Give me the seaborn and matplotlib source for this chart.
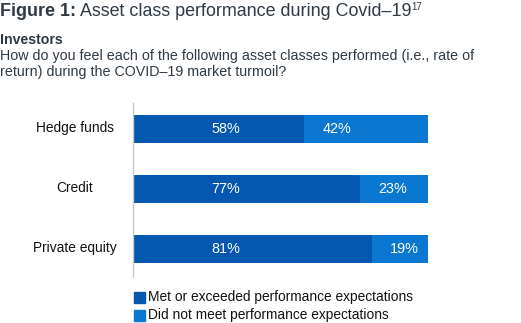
import matplotlib
matplotlib.use("Agg")
import matplotlib.pyplot as plt
import seaborn as sns
import pandas as pd

categories = ["Hedge funds", "Credit", "Private equity"]
met = [58, 77, 81]
not_met = [42, 23, 19]
series_names = ["Met or exceeded performance expectations",
                "Did not meet performance expectations"]

DARK = "#0457ae"
LIGHT = "#0a77d0"
TEXT = "#2f3a44"

sns.set_theme(style="white")
plt.rcParams["font.family"] = ["Liberation Sans", "DejaVu Sans"]

df = pd.DataFrame({
    "category": categories,
    "met": met,
    "total": [a + b for a, b in zip(met, not_met)],
})

W, H = 521, 323
fig = plt.figure(figsize=(W / 100, H / 100), dpi=100)
ax = fig.add_axes([133 / W, (H - 277) / H, 295 / W, 174 / H])

# stacked bars: full length in the lighter blue, first share over it in dark blue
sns.barplot(data=df, x="total", y="category", color=LIGHT, saturation=1,
            width=0.47, ax=ax, linewidth=0)
sns.barplot(data=df, x="met", y="category", color=DARK, saturation=1,
            width=0.47, ax=ax, linewidth=0)

ax.set_xlim(0, 100)
ax.set_ylim(2.47, -0.43)
ax.set_xlabel("")
ax.set_ylabel("")
ax.set_xticks([])
ax.set_yticks([])
for s in ["top", "right", "bottom"]:
    ax.spines[s].set_visible(False)
ax.spines["left"].set_color("#c9c9c9")
ax.spines["left"].set_linewidth(1.0)

for i, (a, b) in enumerate(zip(met, not_met)):
    ax.text(31.5, i, f"{a}%", color="white", fontsize=10.4,
            ha="center", va="center")
    ax.text(a + 11, i, f"{b}%", color="white", fontsize=10.4,
            ha="center", va="center")
    # category label centred in the left margin
    fig.text(75 / W, 1 - (128 + 60 * i) / H, categories[i], fontsize=9.9,
             color="#111111", ha="center", va="center")

# title with a bold lead-in
fig.canvas.draw()
r = fig.canvas.get_renderer()
t1 = fig.text(0 / W, 1 - 12 / H, "Figure 1:", fontsize=12.9, fontweight="bold",
              color=TEXT, va="center", ha="left")
bb = t1.get_window_extent(renderer=r)
t2 = fig.text(bb.x1 / W + 4 / W, 1 - 12 / H,
              "Asset class performance during Covid\u201319",
              fontsize=12.9, color=TEXT, va="center", ha="left")
bb2 = t2.get_window_extent(renderer=r)
fig.text(bb2.x1 / W, 1 - 7 / H, "17", fontsize=7, color=TEXT,
         va="center", ha="left")

fig.text(0, 1 - 40 / H, "Investors", fontsize=10.2, fontweight="bold",
         color=TEXT, va="center", ha="left")
fig.text(0, 1 - 56 / H,
         "How do you feel each of the following asset classes performed (i.e., rate of",
         fontsize=10.3, color=TEXT, va="center", ha="left")
fig.text(0, 1 - 72 / H, "return) during the COVID\u201319 market turmoil?",
         fontsize=10.3, color=TEXT, va="center", ha="left")

# legend
for k, (name, col) in enumerate(zip(series_names, [DARK, LIGHT])):
    y = 297 + 18 * k
    fig.patches.append(plt.Rectangle((134 / W, 1 - (y + 5.5) / H), 11 / W, 11 / H,
                                     transform=fig.transFigure, color=col))
    fig.text(148 / W, 1 - y / H, name, fontsize=9.9, color="#111111",
             va="center", ha="left")

fig.savefig("out.png", dpi=100)
